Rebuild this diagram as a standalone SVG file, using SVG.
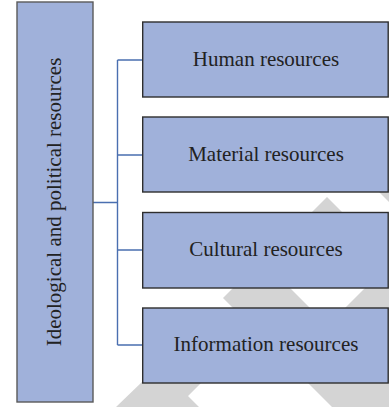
<svg xmlns="http://www.w3.org/2000/svg" width="389" height="407" viewBox="0 0 389 407">
  <style>
    .wm { fill: #d4d4d4; stroke: none; }
    .box { fill: #a0b1da; stroke: #2e2e2e; stroke-width: 1.4; }
    .root { fill: #a0b1da; stroke: #5a5a5a; stroke-width: 1.4; }
    .label { font-family: "Liberation Serif", "Times New Roman", serif; font-size: 21px; fill: #222; text-anchor: middle; }
    .link { fill: none; stroke: #4a6fb0; stroke-width: 1.4; }
  </style>
  <rect width="389" height="407" fill="#fff"/>

  <!-- background chevron pattern -->
  <g id="background">
    <polygon class="wm" points="327,197 357,227 297,227"/>
    <polygon class="wm" points="376,189 400,189 400,213"/>
    <polygon class="wm" points="235,286 288,286 312,310 235,310 223,298"/>
    <polygon class="wm" points="367,286 400,286 400,310 343,310"/>
    <polygon class="wm" points="143,381 203,381 188,396 199,407 116,407"/>
    <polygon class="wm" points="306,381 400,381 400,407 332,407"/>
  </g>

  <!-- connectors -->
  <g id="connectors">
    <path class="link" d="M93,202.5 H117.5 M117.5,60 V345 M117.5,60 H142.7 M117.5,155 H142.7 M117.5,250 H142.7 M117.5,345 H142.7"/>
  </g>

  <g id="ideological">
    <rect class="root" x="17" y="2" width="76" height="400"/>
    <text class="label" transform="translate(61,202) rotate(-90)" x="0" y="0">Ideological and political resources</text>
  </g>

  <g id="human">
    <rect class="box" x="142.7" y="22" width="245.5" height="75"/>
    <text class="label" x="266" y="66">Human resources</text>
  </g>

  <g id="material">
    <rect class="box" x="142.7" y="117" width="245.5" height="75"/>
    <text class="label" x="266" y="161">Material resources</text>
  </g>

  <g id="cultural">
    <rect class="box" x="142.7" y="212.5" width="245.5" height="75.5"/>
    <text class="label" x="266" y="256">Cultural resources</text>
  </g>

  <g id="information">
    <rect class="box" x="142.7" y="308" width="245.5" height="75"/>
    <text class="label" x="266" y="351">Information resources</text>
  </g>
</svg>
